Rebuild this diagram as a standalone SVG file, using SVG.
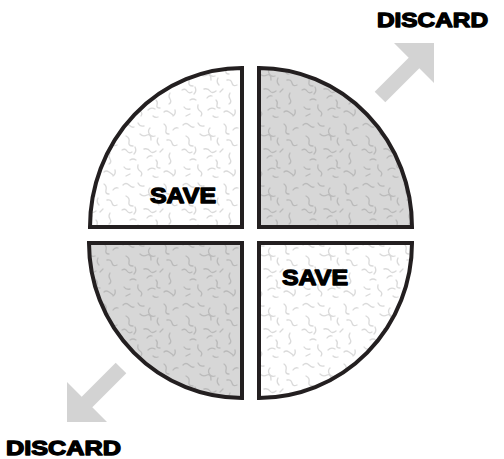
<svg xmlns="http://www.w3.org/2000/svg" width="504" height="459" viewBox="0 0 504 459">
  <defs>
    <g id="squig">
      <path d="M3 5 q3 -3 6 0 t5 2"/>
      <path d="M18 3 q2 4 6 3"/>
      <path d="M30 8 q-3 3 0 7 q2 2 5 1"/>
      <path d="M44 4 q3 2 2 6 t3 4"/>
      <path d="M53 10 q2 -3 5 -2"/>
      <path d="M6 16 q4 2 3 6 t4 4"/>
      <path d="M20 14 q3 3 7 1 t4 5"/>
      <path d="M38 18 q-2 4 1 7"/>
      <path d="M47 20 q4 -1 5 3 t5 2"/>
      <path d="M2 30 q3 -2 5 1 t5 1"/>
      <path d="M15 27 q2 4 -1 7"/>
      <path d="M24 29 q4 -1 6 2 t6 0"/>
      <path d="M40 32 l3 -3"/>
      <path d="M50 33 q-2 3 0 6 t-1 5"/>
      <path d="M10 40 q3 -2 6 0"/>
      <path d="M27 38 q2 -3 5 -2"/>
      <path d="M36 40 q2 2 1 5 t3 3"/>
      <path d="M4 47 q2 3 6 2"/>
      <path d="M18 45 q-1 4 2 6 t1 5"/>
      <path d="M28 50 q3 -3 7 -1"/>
      <path d="M44 52 q2 -2 5 0 t4 3"/>
      <path d="M6 56 l4 -2"/>
      <path d="M33 56 q2 2 5 1"/>
      <path d="M55 50 q1 4 -2 6"/>
    </g>
    <pattern id="texLight" width="60" height="60" patternUnits="userSpaceOnUse">
      <rect width="60" height="60" fill="#ffffff"/>
      <use href="#squig" fill="none" stroke="#dadada" stroke-width="1.3" stroke-linecap="round"/>
    </pattern>
    <pattern id="texGray" width="60" height="60" patternUnits="userSpaceOnUse">
      <rect width="60" height="60" fill="#d7d7d7"/>
      <use href="#squig" fill="none" stroke="#bababa" stroke-width="1.3" stroke-linecap="round"/>
    </pattern>
  </defs>
  <style>
    .quad { stroke: #231f20; stroke-width: 4; stroke-linejoin: miter; }
    .light { fill: url(#texLight); }
    .gray { fill: url(#texGray); }
    .arrow { fill: #d3d3d3; stroke: none; }
    .lbl { font-family: "Liberation Sans", Arial, sans-serif; font-weight: bold; fill: #000; stroke: #000; stroke-width: 1.3; stroke-linejoin: round; }
  </style>

  <g id="quad-top-left">
    <path class="quad light" d="M242 227 H90 A152 159 0 0 1 242 68 Z"/>
    <text class="lbl" x="150" y="203" font-size="22" textLength="66" lengthAdjust="spacingAndGlyphs">SAVE</text>
  </g>
  <g id="quad-top-right">
    <path class="quad gray" d="M259 227 V68 A153 159 0 0 1 412 227 Z"/>
  </g>
  <g id="quad-bottom-left">
    <path class="quad gray" d="M242 243 V398 A153 155 0 0 1 89 243 Z"/>
  </g>
  <g id="quad-bottom-right">
    <path class="quad light" d="M259 243 H412 A153 155 0 0 1 259 398 Z"/>
    <text class="lbl" x="282" y="285" font-size="22" textLength="66" lengthAdjust="spacingAndGlyphs">SAVE</text>
  </g>

  <g id="connectors">
    <polygon class="arrow" points="434,43 434,83 419.3,68.3 385.3,102.3 374.7,91.7 408.7,57.7 394,43"/>
    <polygon class="arrow" points="67,422 67,382 81.7,396.7 115.7,362.7 126.3,373.3 92.3,407.3 107,422"/>
  </g>

  <g id="label-discard-top">
    <text class="lbl" x="377" y="27" font-size="20" textLength="111" lengthAdjust="spacingAndGlyphs">DISCARD</text>
  </g>
  <g id="label-discard-bottom">
    <text class="lbl" x="6" y="455" font-size="20" textLength="115" lengthAdjust="spacingAndGlyphs">DISCARD</text>
  </g>
</svg>
